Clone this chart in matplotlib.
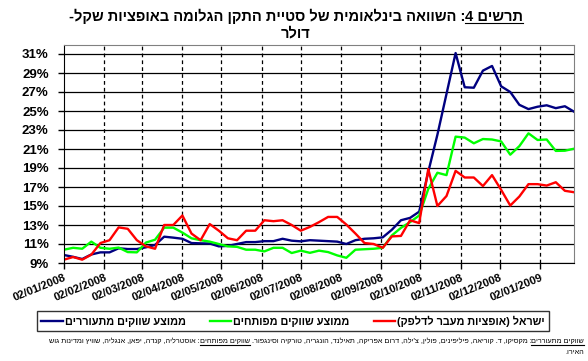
import pandas as pd
import matplotlib
matplotlib.use("Agg")
import matplotlib.pyplot as plt
from matplotlib.lines import Line2D
from matplotlib.transforms import IdentityTransform

FONT = ["Liberation Sans", "DejaVu Sans"]
plt.rcParams["font.family"] = FONT

# weekly observations, 02/01/2008 .. 28/01/2009
weeks = pd.date_range("2008-01-02", periods=57, freq="7D")

emerging = [9.84, 9.65, 9.42, 9.9, 10.12, 10.12, 10.55, 10.47, 10.47, 10.65,
            10.9, 11.77, 11.67, 11.55, 11.1, 11.07, 11.05, 10.75, 10.8, 11.0,
            11.2, 11.2, 11.3, 11.3, 11.55, 11.35, 11.28, 11.4, 11.35, 11.3,
            11.25, 11.0, 11.4, 11.55, 11.6, 11.7, 12.5, 13.5, 13.75, 14.4,
            18.6, 22.5, 26.8, 31.1, 27.5, 27.45, 29.25, 29.74, 27.6, 27.0,
            25.65, 25.2, 25.45, 25.6, 25.3, 25.5, 24.93]
developed = [10.4, 10.6, 10.5, 11.25, 10.6, 10.5, 10.62, 10.15, 10.12, 11.15,
             11.45, 12.72, 12.72, 12.2, 11.6, 11.4, 11.25, 11.0, 10.75, 10.7,
             10.4, 10.4, 10.22, 10.6, 10.6, 10.05, 10.3, 10.07, 10.3, 10.15,
             9.8, 9.55, 10.4, 10.45, 10.5, 10.6, 11.9, 12.7, 13.3, 14.0,
             16.8, 18.5, 18.25, 22.3, 22.2, 21.6, 22.05, 22.0, 21.8, 20.4,
             21.3, 22.65, 21.95, 22.0, 20.8, 20.82, 21.03]
israel = [9.35, 9.63, 9.35, 9.88, 11.1, 11.4, 12.75, 12.6, 11.4, 10.75,
          10.5, 13.0, 13.0, 14.0, 12.1, 11.4, 13.1, 12.4, 11.6, 11.4,
          12.4, 12.4, 13.5, 13.4, 13.5, 13.0, 12.4, 12.8, 13.3, 13.85,
          13.85, 13.05, 12.1, 11.1, 11.0, 10.6, 11.8, 11.85, 13.5, 13.2,
          18.9, 15.0, 16.05, 18.7, 18.0, 18.0, 17.1, 18.25, 16.7, 15.05,
          16.0, 17.3, 17.3, 17.15, 17.5, 16.6, 16.45]

month_ticks = pd.date_range("2008-01-01", "2009-01-01", freq="MS") + pd.Timedelta(days=1)
y_ticks = list(range(9, 32, 2))

labels = ["ממוצע שווקים מתעוררים", "ממוצע שווקים מפותחים", "ישראל (אופציות מעבר לדלפק)"]
title_u = "תרשים 4"
title_rest = ": השוואה בינלאומית של סטיית התקן הגלומה באופציות שקל-"
title_2 = "דולר"
note_1 = [("שווקים מתעוררים", True),
          (": מקסיקו, ד. קוריאה, פיליפינים, פולין, צ'ילה, דרום אפריקה, תאילנד, הונגריה, טורקיה וסינגפור. ", False),
          ("שווקים מפותחים", True),
          (": אוסטרליה, קנדה, יפאן, אנגליה, שוויץ ומדינות גוש", False)]
note_2 = [("האירו.", False)]


def rtl(s):
    mirror = {"(": ")", ")": "("}
    return "".join(mirror.get(c, c) for c in reversed(s))


W, H = 588, 361
fig = plt.figure(figsize=(W / 100, H / 100), dpi=100)
ax = fig.add_axes([64 / W, 1 - 263 / H, 510 / W, 218.5 / H])

ax.plot(weeks, emerging, color="#000080", lw=1.7, label=rtl(labels[0]))
ax.plot(weeks, developed, color="#00ff00", lw=1.7, label=rtl(labels[1]))
ax.plot(weeks, israel, color="#ff0000", lw=1.7, label=rtl(labels[2]))

ax.set_xlim(weeks[0], weeks[-1])
ax.set_ylim(9, 32)
ax.set_yticks(y_ticks)
ax.set_yticklabels([f"{v}%" for v in y_ticks], fontsize=9.5, fontweight="bold")
ax.set_xticks(month_ticks)
ax.set_xticklabels([d.strftime("%d/%m/%Y") for d in month_ticks], rotation=22,
                   ha="right", va="top", rotation_mode="anchor",
                   fontsize=8, fontweight="bold")
ax.tick_params(axis="both", direction="out", length=4, width=1, color="black")
ax.tick_params(axis="y", pad=7)
ax.tick_params(axis="x", pad=3)

for v in y_ticks:
    ax.axhline(v, color="black", lw=0.9, zorder=1)
for d in month_ticks[1:]:
    ax.axvline(d, color="black", lw=0.9, ls=(0, (3, 2.5)), zorder=1)

for s in ["top", "right"]:
    ax.spines[s].set_color("#808080")
for s in ["left", "bottom"]:
    ax.spines[s].set_color("black")

leg = fig.legend(loc="center", bbox_to_anchor=(293 / W, 1 - 321 / H), ncol=3,
                 frameon=True, fancybox=False, edgecolor="black",
                 prop={"weight": "bold", "size": 7.8}, handlelength=2.0,
                 columnspacing=2.2, borderpad=0.4, handletextpad=0.2)
leg.get_frame().set_linewidth(1.0)

renderer = fig.canvas.get_renderer()


def rtl_line(segs, x, y, align, size, weight):
    # place logical segments right to left, y is baseline from top
    parts = []
    for s, u in segs:
        t = fig.text(0, H - y, rtl(s), transform=IdentityTransform(), fontsize=size,
                     fontweight=weight, ha="right", va="baseline")
        parts.append((t, t.get_window_extent(renderer).width, u))
    total = sum(p[1] for p in parts)
    cur = x + total / 2 if align == "center" else x
    for t, w, u in parts:
        t.set_x(cur)
        if u:
            fig.add_artist(Line2D([cur - w, cur], [H - y - 1.6, H - y - 1.6],
                                  transform=IdentityTransform(), color="black", lw=0.8))
        cur -= w


rtl_line([(title_u, True), (title_rest, False)], 296, 21, "center", 10.5, "bold")
rtl_line([(title_2, False)], 296, 37, "center", 10.5, "bold")
rtl_line(note_1, 584, 343, "right", 5.2, "normal")
rtl_line(note_2, 584, 354, "right", 5.2, "normal")

fig.savefig("out.png", dpi=100)
